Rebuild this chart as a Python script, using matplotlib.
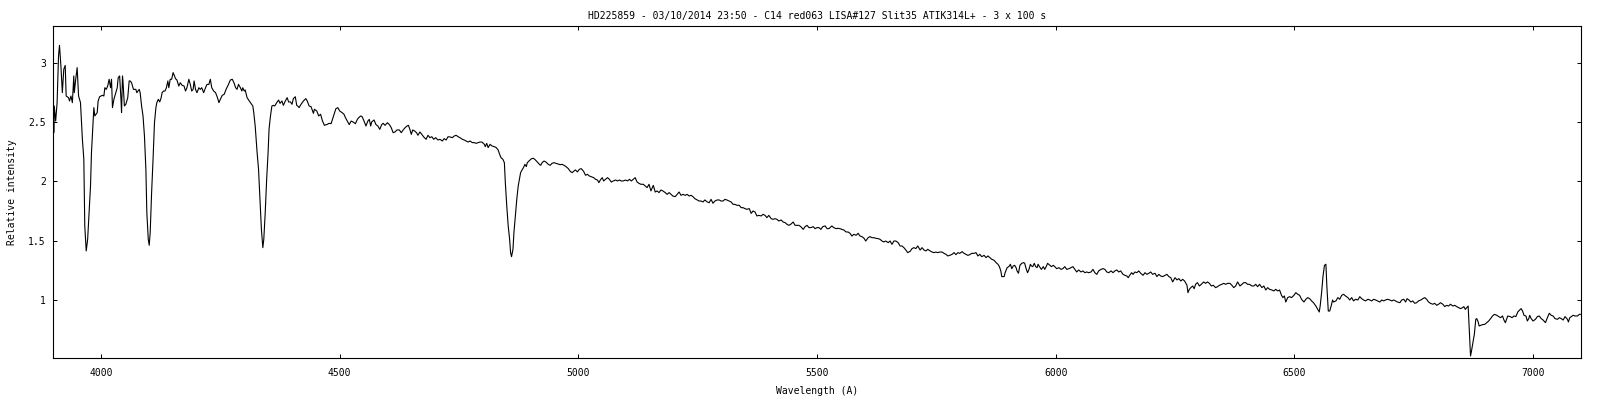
import numpy as np
import matplotlib
matplotlib.use('Agg')
import matplotlib.pyplot as plt
from matplotlib.ticker import FormatStrFormatter

title = 'HD225859 - 03/10/2014 23:50 - C14 red063 LISA#127 Slit35 ATIK314L+ - 3 x 100 s'
x_label = 'Wavelength (A)'
y_label = 'Relative intensity'

x_ticks = [4000, 4500, 5000, 5500, 6000, 6500, 7000]
y_ticks = [1, 1.5, 2, 2.5, 3]

# spectrum, (wavelength A, relative intensity), split by region
seg_3900_4300 = [
    (3900, 2.669), (3901, 2.410), (3902, 2.635), (3905, 2.508), (3908, 2.663), (3911, 3.056), (3913, 3.146),
    (3916, 2.972), (3919, 2.747), (3922, 2.944), (3925, 2.977), (3927, 2.719), (3932, 2.705), (3934, 2.677),
    (3937, 2.719), (3940, 2.663), (3943, 2.888), (3944, 2.747), (3947, 2.860), (3950, 2.958), (3953, 2.719),
    (3957, 2.663), (3961, 2.354), (3964, 2.185), (3966, 1.624), (3969, 1.413), (3972, 1.511), (3975, 1.736),
    (3978, 1.961), (3980, 2.242), (3983, 2.466), (3985, 2.621), (3987, 2.551), (3992, 2.579), (3994, 2.677),
    (3997, 2.713), (4003, 2.725), (4006, 2.719), (4008, 2.789), (4011, 2.775), (4014, 2.803), (4017, 2.860),
    (4020, 2.789), (4022, 2.860), (4024, 2.621), (4027, 2.691), (4031, 2.747), (4034, 2.789), (4036, 2.874),
    (4039, 2.888), (4042, 2.677), (4043, 2.579), (4045, 2.888), (4046, 2.846), (4049, 2.635), (4052, 2.649),
    (4056, 2.705), (4059, 2.846), (4061, 2.846), (4064, 2.831), (4068, 2.775), (4073, 2.775), (4075, 2.747),
    (4080, 2.775), (4082, 2.747), (4085, 2.635), (4088, 2.551), (4091, 2.382), (4094, 2.101), (4096, 1.736),
    (4099, 1.511), (4101, 1.461), (4103, 1.567), (4106, 1.905), (4109, 2.185), (4112, 2.494), (4115, 2.621),
    (4117, 2.663), (4120, 2.691), (4123, 2.669), (4126, 2.705), (4128, 2.747), (4131, 2.761), (4134, 2.761),
    (4137, 2.789), (4140, 2.846), (4142, 2.789), (4145, 2.860), (4148, 2.860), (4151, 2.916), (4154, 2.888),
    (4156, 2.865), (4159, 2.854), (4163, 2.803), (4166, 2.831), (4170, 2.809), (4174, 2.803), (4177, 2.761),
    (4180, 2.789), (4184, 2.860), (4187, 2.817), (4190, 2.761), (4193, 2.775), (4195, 2.846), (4198, 2.775),
    (4201, 2.747), (4205, 2.789), (4208, 2.775), (4211, 2.789), (4215, 2.747), (4219, 2.789), (4222, 2.817),
    (4226, 2.817), (4229, 2.860), (4232, 2.789), (4236, 2.761), (4240, 2.747), (4244, 2.705), (4247, 2.663),
    (4250, 2.691), (4254, 2.725), (4258, 2.733), (4262, 2.775), (4267, 2.817), (4271, 2.854), (4275, 2.860),
    (4279, 2.826), (4282, 2.789), (4285, 2.775), (4288, 2.817), (4292, 2.789), (4295, 2.761), (4297, 2.789),
    (4300, 2.761),
]

seg_4300_4710 = [
    (4302, 2.770), (4306, 2.705), (4312, 2.669), (4318, 2.635), (4320, 2.579), (4323, 2.466), (4327, 2.242),
    (4330, 2.101), (4333, 1.848), (4336, 1.595), (4339, 1.441), (4341, 1.511), (4344, 1.736), (4347, 2.017),
    (4350, 2.242), (4352, 2.438), (4355, 2.551), (4358, 2.635), (4361, 2.640), (4364, 2.635), (4368, 2.663),
    (4372, 2.685), (4375, 2.657), (4379, 2.677), (4382, 2.640), (4386, 2.677), (4390, 2.705), (4393, 2.669),
    (4397, 2.669), (4400, 2.649), (4403, 2.697), (4407, 2.713), (4410, 2.640), (4412, 2.635), (4415, 2.621),
    (4419, 2.649), (4424, 2.677), (4429, 2.697), (4432, 2.677), (4436, 2.635), (4440, 2.629), (4445, 2.573),
    (4447, 2.607), (4452, 2.593), (4456, 2.551), (4460, 2.565), (4464, 2.508), (4468, 2.472), (4474, 2.480),
    (4478, 2.489), (4482, 2.486), (4486, 2.537), (4492, 2.612), (4496, 2.621), (4500, 2.593), (4505, 2.579),
    (4509, 2.565), (4512, 2.537), (4516, 2.508), (4520, 2.478), (4524, 2.508), (4528, 2.500), (4533, 2.486),
    (4537, 2.522), (4540, 2.537), (4544, 2.551), (4547, 2.545), (4551, 2.508), (4555, 2.466), (4559, 2.508),
    (4562, 2.522), (4565, 2.466), (4567, 2.500), (4572, 2.517), (4576, 2.478), (4580, 2.466), (4584, 2.438),
    (4588, 2.478), (4591, 2.489), (4595, 2.472), (4600, 2.494), (4604, 2.478), (4608, 2.452), (4612, 2.410),
    (4616, 2.416), (4620, 2.433), (4625, 2.433), (4629, 2.410), (4633, 2.433), (4637, 2.452), (4641, 2.466),
    (4644, 2.472), (4647, 2.438), (4650, 2.396), (4653, 2.433), (4657, 2.424), (4661, 2.410), (4664, 2.388),
    (4668, 2.416), (4672, 2.396), (4676, 2.374), (4681, 2.354), (4685, 2.388), (4689, 2.368), (4693, 2.376),
    (4697, 2.354), (4701, 2.368), (4706, 2.348), (4710, 2.354),
]

seg_4710_5115 = [
    (4715, 2.340), (4719, 2.360), (4723, 2.348), (4727, 2.376), (4731, 2.374), (4736, 2.368), (4740, 2.382),
    (4744, 2.388), (4748, 2.376), (4752, 2.368), (4757, 2.354), (4761, 2.348), (4765, 2.340), (4769, 2.331),
    (4773, 2.340), (4778, 2.326), (4782, 2.326), (4786, 2.320), (4790, 2.326), (4794, 2.331), (4798, 2.331),
    (4803, 2.312), (4805, 2.292), (4808, 2.320), (4811, 2.284), (4815, 2.312), (4819, 2.298), (4824, 2.292),
    (4828, 2.284), (4832, 2.264), (4835, 2.228), (4838, 2.199), (4842, 2.185), (4845, 2.157), (4847, 1.989),
    (4850, 1.792), (4853, 1.624), (4856, 1.511), (4858, 1.399), (4860, 1.365), (4863, 1.427), (4865, 1.567),
    (4868, 1.708), (4871, 1.848), (4874, 1.961), (4877, 2.031), (4879, 2.073), (4882, 2.096), (4885, 2.115),
    (4888, 2.143), (4891, 2.124), (4893, 2.157), (4898, 2.177), (4902, 2.191), (4906, 2.194), (4910, 2.180),
    (4914, 2.163), (4919, 2.140), (4921, 2.135), (4924, 2.157), (4928, 2.171), (4932, 2.163), (4937, 2.143),
    (4941, 2.135), (4945, 2.152), (4949, 2.157), (4953, 2.152), (4958, 2.146), (4962, 2.140), (4966, 2.143),
    (4970, 2.135), (4974, 2.124), (4979, 2.107), (4983, 2.084), (4987, 2.073), (4990, 2.084), (4994, 2.096),
    (4998, 2.079), (5002, 2.101), (5006, 2.107), (5011, 2.084), (5015, 2.051), (5019, 2.059), (5023, 2.045),
    (5027, 2.039), (5032, 2.031), (5036, 2.017), (5040, 2.011), (5043, 1.989), (5046, 2.011), (5050, 2.031),
    (5053, 2.003), (5057, 2.017), (5061, 2.031), (5065, 2.017), (5069, 1.994), (5073, 2.003), (5078, 2.011),
    (5082, 2.003), (5086, 2.011), (5090, 2.003), (5094, 2.003), (5099, 2.011), (5103, 2.003), (5107, 2.017),
    (5111, 2.003), (5115, 2.017),
]

seg_5115_5525 = [
    (5119, 2.031), (5123, 1.994), (5127, 1.983), (5131, 1.975), (5136, 1.975), (5140, 1.961), (5144, 1.947),
    (5148, 1.975), (5152, 1.919), (5157, 1.966), (5161, 1.910), (5165, 1.919), (5169, 1.905), (5173, 1.927),
    (5177, 1.919), (5182, 1.905), (5186, 1.890), (5190, 1.905), (5194, 1.890), (5198, 1.876), (5203, 1.871),
    (5207, 1.890), (5211, 1.910), (5215, 1.882), (5219, 1.890), (5224, 1.882), (5228, 1.890), (5232, 1.876),
    (5236, 1.882), (5240, 1.871), (5244, 1.854), (5249, 1.843), (5253, 1.834), (5257, 1.834), (5261, 1.826),
    (5265, 1.843), (5270, 1.826), (5274, 1.820), (5278, 1.848), (5282, 1.815), (5286, 1.834), (5291, 1.843),
    (5295, 1.843), (5299, 1.834), (5303, 1.834), (5307, 1.848), (5311, 1.843), (5316, 1.834), (5320, 1.826),
    (5324, 1.806), (5328, 1.806), (5332, 1.798), (5337, 1.798), (5341, 1.778), (5345, 1.778), (5349, 1.770),
    (5353, 1.764), (5358, 1.770), (5362, 1.730), (5366, 1.750), (5370, 1.742), (5374, 1.708), (5378, 1.713),
    (5383, 1.708), (5387, 1.722), (5391, 1.713), (5395, 1.694), (5399, 1.713), (5404, 1.685), (5408, 1.680),
    (5412, 1.685), (5416, 1.680), (5420, 1.666), (5425, 1.674), (5429, 1.657), (5433, 1.652), (5437, 1.638),
    (5441, 1.629), (5445, 1.638), (5450, 1.657), (5454, 1.629), (5458, 1.629), (5462, 1.629), (5466, 1.618),
    (5471, 1.595), (5475, 1.618), (5479, 1.629), (5483, 1.610), (5487, 1.610), (5492, 1.618), (5496, 1.601),
    (5500, 1.610), (5504, 1.610), (5508, 1.595), (5512, 1.618), (5517, 1.624), (5521, 1.601), (5525, 1.601),
]

seg_5525_5935 = [
    (5531, 1.624), (5535, 1.610), (5540, 1.601), (5544, 1.604), (5548, 1.601), (5552, 1.595), (5556, 1.590),
    (5561, 1.573), (5565, 1.573), (5569, 1.562), (5573, 1.539), (5577, 1.553), (5582, 1.545), (5586, 1.562),
    (5590, 1.539), (5594, 1.534), (5598, 1.522), (5602, 1.497), (5607, 1.525), (5611, 1.534), (5615, 1.525),
    (5619, 1.525), (5623, 1.520), (5628, 1.517), (5632, 1.511), (5636, 1.497), (5640, 1.489), (5644, 1.497),
    (5649, 1.483), (5653, 1.497), (5657, 1.469), (5661, 1.497), (5665, 1.497), (5670, 1.483), (5674, 1.455),
    (5678, 1.455), (5682, 1.441), (5686, 1.421), (5690, 1.399), (5695, 1.410), (5699, 1.433), (5703, 1.441),
    (5707, 1.433), (5711, 1.455), (5716, 1.421), (5720, 1.441), (5724, 1.421), (5728, 1.413), (5732, 1.427),
    (5737, 1.413), (5741, 1.404), (5745, 1.399), (5749, 1.404), (5753, 1.399), (5757, 1.404), (5762, 1.404),
    (5766, 1.393), (5770, 1.385), (5774, 1.371), (5778, 1.376), (5783, 1.385), (5787, 1.399), (5791, 1.382),
    (5795, 1.399), (5799, 1.393), (5804, 1.407), (5808, 1.393), (5812, 1.385), (5816, 1.376), (5820, 1.382),
    (5824, 1.393), (5829, 1.393), (5833, 1.399), (5837, 1.371), (5841, 1.385), (5845, 1.365), (5850, 1.376),
    (5854, 1.357), (5858, 1.371), (5862, 1.357), (5866, 1.343), (5871, 1.334), (5875, 1.315), (5879, 1.301),
    (5882, 1.281), (5885, 1.245), (5887, 1.197), (5892, 1.197), (5894, 1.230), (5898, 1.270), (5903, 1.287),
    (5905, 1.301), (5908, 1.264), (5911, 1.287), (5914, 1.292), (5917, 1.272), (5919, 1.245), (5922, 1.225),
    (5925, 1.292), (5929, 1.309), (5933, 1.315),
]

seg_5935_6345 = [
    (5935, 1.309), (5938, 1.264), (5941, 1.230), (5944, 1.258), (5947, 1.301), (5949, 1.287), (5952, 1.281),
    (5955, 1.309), (5958, 1.281), (5961, 1.272), (5963, 1.301), (5966, 1.281), (5970, 1.258), (5974, 1.281),
    (5977, 1.258), (5980, 1.281), (5983, 1.309), (5986, 1.298), (5988, 1.292), (5991, 1.281), (5995, 1.292),
    (5998, 1.281), (6002, 1.264), (6007, 1.272), (6011, 1.258), (6015, 1.264), (6019, 1.281), (6023, 1.258),
    (6028, 1.264), (6032, 1.272), (6036, 1.281), (6040, 1.258), (6044, 1.236), (6048, 1.253), (6053, 1.236),
    (6057, 1.245), (6061, 1.230), (6065, 1.236), (6069, 1.230), (6074, 1.236), (6078, 1.258), (6082, 1.230),
    (6086, 1.216), (6090, 1.245), (6095, 1.258), (6099, 1.264), (6103, 1.258), (6107, 1.236), (6111, 1.230),
    (6116, 1.245), (6120, 1.230), (6124, 1.245), (6128, 1.253), (6132, 1.236), (6136, 1.245), (6141, 1.216),
    (6145, 1.208), (6149, 1.202), (6152, 1.188), (6155, 1.208), (6159, 1.230), (6162, 1.216), (6166, 1.236),
    (6170, 1.230), (6174, 1.245), (6178, 1.225), (6183, 1.208), (6187, 1.230), (6191, 1.216), (6195, 1.225),
    (6199, 1.236), (6203, 1.216), (6208, 1.225), (6212, 1.197), (6216, 1.216), (6220, 1.202), (6224, 1.197),
    (6229, 1.208), (6233, 1.216), (6237, 1.197), (6241, 1.188), (6245, 1.152), (6250, 1.188), (6254, 1.169),
    (6258, 1.180), (6262, 1.160), (6266, 1.174), (6270, 1.160), (6275, 1.124), (6277, 1.062), (6280, 1.090),
    (6283, 1.104), (6287, 1.118), (6290, 1.095), (6293, 1.132), (6297, 1.146), (6301, 1.118), (6305, 1.132),
    (6310, 1.152), (6314, 1.140), (6318, 1.152), (6322, 1.140), (6326, 1.118), (6330, 1.124), (6335, 1.104),
    (6339, 1.112), (6343, 1.124),
]

seg_6345_6750 = [
    (6348, 1.132), (6352, 1.140), (6356, 1.132), (6360, 1.140), (6365, 1.140), (6369, 1.124), (6373, 1.104),
    (6377, 1.118), (6381, 1.152), (6386, 1.118), (6390, 1.132), (6394, 1.146), (6398, 1.146), (6402, 1.132),
    (6406, 1.132), (6411, 1.118), (6415, 1.118), (6419, 1.132), (6423, 1.112), (6427, 1.132), (6432, 1.104),
    (6436, 1.118), (6440, 1.084), (6444, 1.104), (6448, 1.090), (6453, 1.084), (6457, 1.076), (6461, 1.090),
    (6465, 1.076), (6469, 1.084), (6473, 1.039), (6476, 1.020), (6479, 1.034), (6482, 0.983), (6486, 1.020),
    (6490, 1.028), (6494, 1.020), (6499, 1.039), (6503, 1.062), (6507, 1.048), (6511, 1.039), (6515, 1.006),
    (6520, 0.983), (6524, 1.006), (6528, 1.020), (6532, 1.011), (6536, 0.992), (6540, 0.977), (6545, 0.949),
    (6549, 0.921), (6552, 0.899), (6554, 0.949), (6557, 1.062), (6560, 1.202), (6563, 1.292), (6566, 1.301),
    (6568, 1.118), (6571, 0.907), (6574, 0.907), (6577, 0.949), (6580, 1.000), (6582, 0.983), (6587, 0.992),
    (6591, 1.020), (6595, 1.006), (6599, 1.039), (6603, 1.048), (6607, 1.034), (6612, 1.020), (6616, 1.000),
    (6620, 1.020), (6624, 0.992), (6628, 1.006), (6633, 1.000), (6637, 1.028), (6641, 1.011), (6645, 1.000),
    (6649, 0.992), (6654, 1.006), (6658, 1.000), (6662, 0.992), (6666, 1.006), (6670, 1.000), (6674, 0.992),
    (6679, 0.983), (6683, 1.000), (6687, 0.992), (6691, 1.000), (6695, 1.006), (6700, 1.000), (6704, 0.992),
    (6708, 1.000), (6712, 0.992), (6716, 0.983), (6721, 0.977), (6725, 1.000), (6729, 1.006), (6733, 0.983),
    (6736, 1.011), (6740, 1.000), (6744, 0.983), (6748, 0.992),
]

seg_6750_7100 = [
    (6752, 0.972), (6756, 0.977), (6760, 0.992), (6765, 1.000), (6769, 1.011), (6773, 1.020), (6777, 1.006),
    (6781, 0.983), (6785, 0.972), (6790, 0.964), (6794, 0.972), (6798, 0.955), (6802, 0.964), (6806, 0.977),
    (6811, 0.964), (6815, 0.944), (6819, 0.955), (6823, 0.949), (6827, 0.964), (6832, 0.949), (6836, 0.955),
    (6840, 0.944), (6844, 0.935), (6848, 0.927), (6852, 0.935), (6855, 0.944), (6858, 0.921), (6861, 0.935),
    (6864, 0.949), (6865, 0.865), (6867, 0.683), (6869, 0.528), (6871, 0.570), (6874, 0.640), (6877, 0.711),
    (6880, 0.837), (6882, 0.843), (6885, 0.815), (6887, 0.781), (6890, 0.786), (6894, 0.792), (6899, 0.795),
    (6903, 0.809), (6907, 0.823), (6911, 0.843), (6915, 0.865), (6919, 0.879), (6924, 0.871), (6928, 0.860),
    (6932, 0.851), (6936, 0.865), (6939, 0.831), (6942, 0.809), (6945, 0.843), (6947, 0.865), (6952, 0.860),
    (6956, 0.851), (6960, 0.865), (6964, 0.860), (6968, 0.899), (6972, 0.916), (6975, 0.927), (6978, 0.907),
    (6981, 0.871), (6985, 0.865), (6988, 0.823), (6991, 0.843), (6993, 0.871), (6996, 0.843), (7000, 0.823),
    (7005, 0.837), (7009, 0.860), (7013, 0.865), (7017, 0.843), (7021, 0.831), (7026, 0.809), (7030, 0.851),
    (7034, 0.888), (7038, 0.871), (7042, 0.865), (7046, 0.843), (7051, 0.837), (7055, 0.851), (7059, 0.843),
    (7063, 0.831), (7067, 0.860), (7072, 0.837), (7074, 0.815), (7077, 0.851), (7080, 0.860), (7084, 0.871),
    (7088, 0.865), (7093, 0.865), (7097, 0.879), (7099, 0.879),
]

segments = [seg_3900_4300, seg_4300_4710, seg_4710_5115, seg_5115_5525,
            seg_5525_5935, seg_5935_6345, seg_6345_6750, seg_6750_7100]
spectrum = np.array([p for seg in segments for p in seg])
wavelength = spectrum[:, 0]
intensity = spectrum[:, 1]

font = 'DejaVu Sans Mono'
plt.rcParams['font.family'] = font
plt.rcParams['font.size'] = 7

fig = plt.figure(figsize=(16, 4), dpi=100)
ax = fig.add_axes([0.033, 0.105, 0.955, 0.830])

ax.plot(wavelength, intensity, color='black', lw=0.8)

ax.set_xlim(3899, 7100)
ax.set_ylim(0.511, 3.309)
ax.set_xticks(x_ticks)
ax.set_yticks(y_ticks)
ax.yaxis.set_major_formatter(FormatStrFormatter('%g'))
ax.tick_params(direction='in', length=3.2, width=0.7, top=True, right=True,
               labelsize=7, pad=7)
ax.tick_params(axis='y', pad=5)
for sp in ax.spines.values():
    sp.set_linewidth(0.8)

ax.set_title(title, fontsize=7, pad=5)
ax.set_xlabel(x_label, fontsize=7, labelpad=6)
ax.set_ylabel(y_label, fontsize=7, labelpad=8)

fig.savefig('out.png', dpi=100, facecolor='white')
